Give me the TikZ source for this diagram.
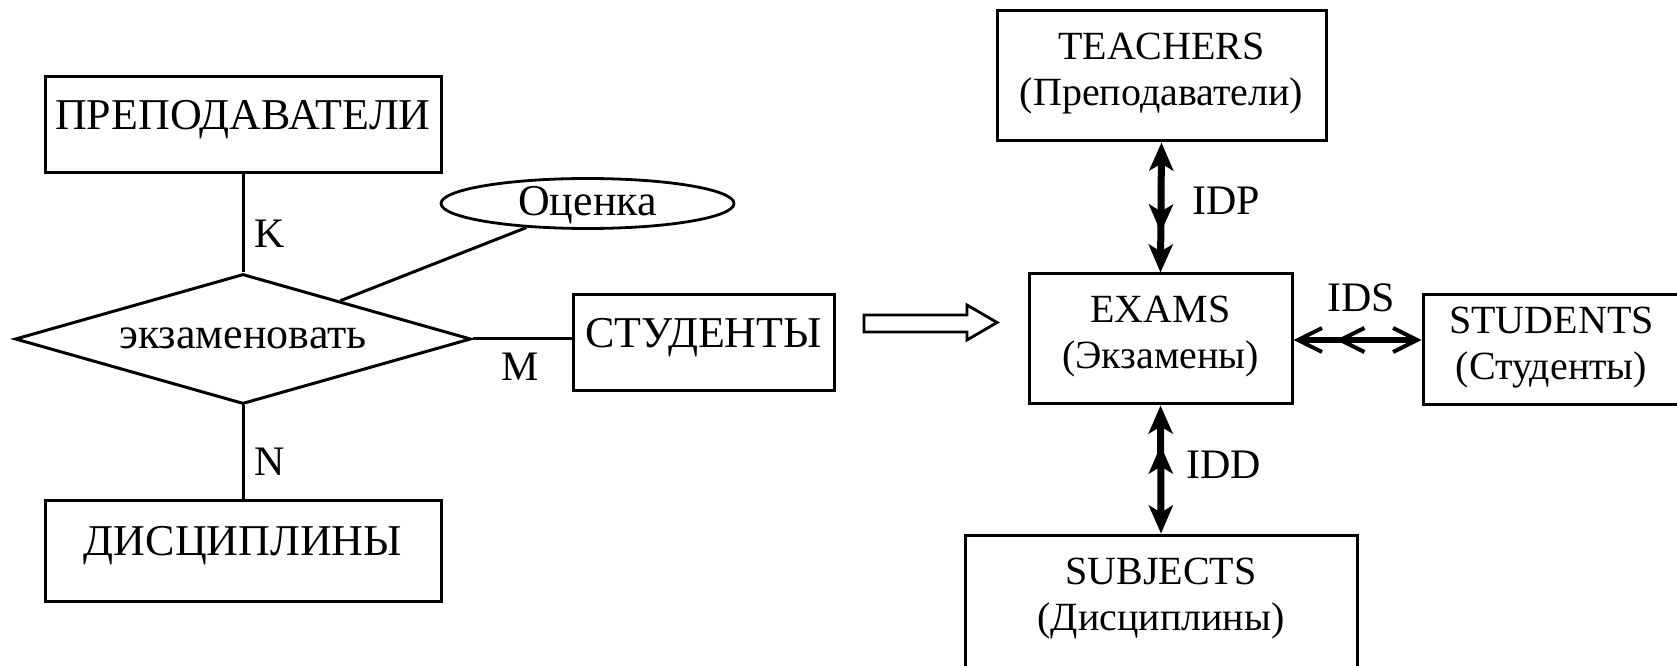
\documentclass[tikz,border=0pt]{standalone}
\usepackage{fontspec}
\setmainfont{Liberation Serif}
\usetikzlibrary{arrows.meta,positioning,shapes.geometric}
\tikzset{
  entity/.style={rectangle, draw, line width=1.5pt, align=center, inner sep=0pt, text height=15pt, text depth=10pt, font=\fontsize{22}{26}\selectfont},
  table/.style={rectangle, draw, line width=1.5pt, align=center, inner sep=0pt, text depth=7pt, font=\fontsize{20}{23}\selectfont},
  relship/.style={diamond, aspect=3.5, draw, line width=1.5pt, inner sep=0pt, text height=11pt, text depth=1pt, font=\fontsize{22}{26}\selectfont},
  attrib/.style={ellipse, draw, line width=1.4pt, inner sep=0pt, text height=12pt, text depth=0pt, font=\fontsize{22}{26}\selectfont},
  conn/.style={line width=1.5pt},
  card/.style={inner sep=0pt, font=\fontsize{21}{24}\selectfont},
  vhead/.tip={Stealth[length=14pt, width=12pt, inset=3.5pt]},
  hhead/.tip={Straight Barb[length=12pt, width=12pt, line width=2pt]},
  keyv/.style={line width=3.5pt, {vhead[]vhead[sep=6pt]}-{vhead[]}},
  keyh/.style={line width=3pt, {hhead[]hhead[sep=6pt]}-{hhead[]}}
}
\begin{document}
\begin{tikzpicture}[x=0.5pt,y=0.5pt]
\useasboundingbox (0,0) rectangle (1677,665);
\clip (0,0) rectangle (1677,665);

% ER model
\node[entity, minimum width=198pt, minimum height=48pt] (prep) at (243,540) {ПРЕПОДАВАТЕЛИ};
\node[relship, minimum width=228pt, minimum height=65pt] (exam) at (243,326) {экзаменовать};
\node[entity, minimum width=198pt, minimum height=50.5pt] (disc) at (243,114.5) {ДИСЦИПЛИНЫ};
\node[attrib, minimum width=146.5pt, minimum height=25pt] (grade) at (587.5,461.5) {Оценка};
\node[entity, minimum width=130.5pt, minimum height=48pt] (stud) at (703.5,322) {СТУДЕНТЫ};

\draw[conn] (prep.south) -- node[card, pos=0.6, right=5pt] {K} (exam.north);
\draw[conn] (exam.south) -- node[card, pos=0.61, right=5pt] {N} (disc.north);
\draw[conn] (exam.east) -- node[card, pos=0.48, below=6pt] {M} (exam.east -| stud.west);
\draw[conn] (exam) -- (grade);

% transition
\draw[line width=1.4pt] (864,350) -- (967,350) -- (967,360) -- (997,342.5) -- (967,325) -- (967,333) -- (864,333) -- cycle;

% tables
\node[table, minimum width=164.5pt, minimum height=65pt] (teach) at (1161.5,589) {TEACHERS\\(Преподаватели)};
\node[table, minimum width=131.5pt, minimum height=65pt] (exams) at (1160.5,326) {EXAMS\\(Экзамены)};
\node[table, minimum width=128.5pt, minimum height=55pt] (studs) at (1551.5,315) {STUDENTS\\(Студенты)};
\node[table, minimum width=196pt, minimum height=66pt] (subj) at (1161,64) {SUBJECTS\\(Дисциплины)};

\draw[keyv] (exams.north) -- node[card, pos=0.55, right=14pt] {IDP} (teach.south);
\draw[keyv] (exams.south) -- node[card, pos=0.46, right=11pt] {IDD} (subj.north);
\draw[keyh] (exams.east |- 0,325) -- node[card, pos=0.53, above=12.5pt] {IDS} (studs.west |- 0,325);

\end{tikzpicture}
\end{document}
